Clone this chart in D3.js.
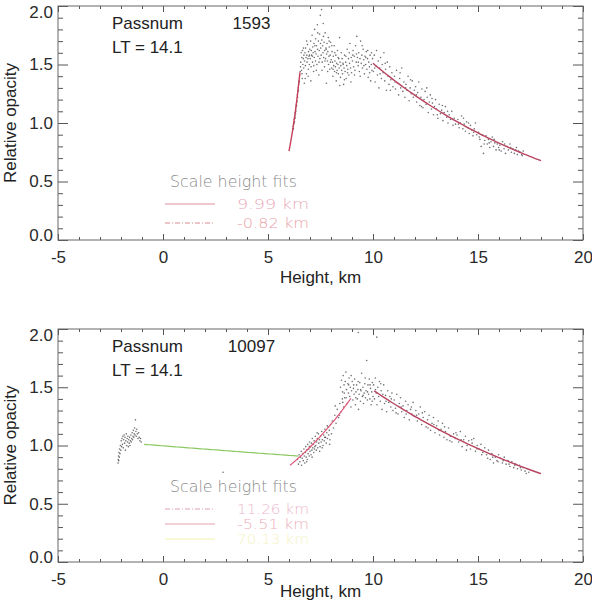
<!DOCTYPE html>
<html><head><meta charset="utf-8">
<script src="https://cdn.jsdelivr.net/npm/d3@7"></script>
<style>body{margin:0;background:#fff}svg{display:block}</style>
</head><body><svg id="c" width="592" height="602"></svg>
<script>
// ---------- data ----------
const xTicks = [-5, 0, 5, 10, 15, 20];
const xTickLabels = ["-5", "0", "5", "10", "15", "20"];
const xMinorTicks = [-4,-3,-2,-1,1,2,3,4,6,7,8,9,11,12,13,14,16,17,18,19];
const yTicks = [0, 0.5, 1.0, 1.5, 2.0];
const yTickLabels = ["0.0", "0.5", "1.0", "1.5", "2.0"];
const yMinorTicks = [0.1,0.2,0.3,0.4,0.6,0.7,0.8,0.9,1.1,1.2,1.3,1.4,1.6,1.7,1.8,1.9];

const passnums = ["1593", "10097"];
const localTimes = ["LT = 14.1", "LT = 14.1"];

// pass 1593: [height km, relative opacity]
const pass1593 = [
[6.18,0.95],[6.20,0.97],[6.21,0.95],[6.22,0.99],[6.24,1.00],[6.25,1.03],[6.26,1.01],[6.27,1.05],[6.28,1.06],[6.29,1.04],[6.30,1.09],[6.31,1.08],[6.32,1.12],[6.33,1.10],[6.34,1.14],[6.35,1.16],[6.36,1.15],[6.37,1.19],[6.38,1.18],[6.40,1.24],[6.41,1.22],[6.42,1.27],[6.44,1.30],[6.45,1.28],[6.46,1.33],[6.48,1.36],[6.49,1.35],[6.51,1.41],[6.53,1.44],[6.55,1.48],
[6.56,1.52],[6.58,1.60],[6.60,1.45],[6.61,1.56],[6.63,1.38],[6.64,1.62],[6.66,1.50],[6.68,1.55],[6.70,1.47],[6.71,1.58],[6.73,1.34],[6.74,1.53],
[6.76,1.60],[6.78,1.49],[6.79,1.64],[6.81,1.56],[6.83,1.42],[6.85,1.58],[6.86,1.52],[6.88,1.67],[6.90,1.55],[6.92,1.46],[6.93,1.61],[6.95,1.57],[6.97,1.50],[6.99,1.63],
[7.01,1.55],[7.03,1.70],[7.05,1.48],[7.06,1.62],[7.08,1.58],[7.10,1.75],[7.12,1.52],[7.13,1.65],[7.15,1.60],[7.17,1.44],[7.19,1.68],[7.20,1.56],[7.22,1.80],[7.24,1.61],[7.26,1.53],[7.27,1.72],[7.29,1.59],[7.31,1.66],[7.33,1.50],[7.35,1.84],[7.36,1.63],[7.38,1.57],[7.40,1.70],[7.42,1.41],[7.44,1.62],[7.46,1.76],[7.47,1.55],[7.49,1.92],
[7.51,1.64],[7.53,1.58],[7.55,1.97],[7.56,1.71],[7.58,1.52],[7.60,1.66],[7.62,1.60],[7.63,1.85],[7.65,1.56],[7.67,1.69],[7.69,1.48],[7.70,1.62],[7.72,1.77],[7.74,1.55],[7.76,1.64],[7.78,1.34],[7.79,1.59],[7.81,1.68],[7.83,1.53],[7.85,1.61],[7.87,1.73],[7.88,1.50],[7.90,1.57],[7.92,1.65],[7.94,1.46],[7.96,1.58],[7.98,1.69],
[8.01,1.54],[8.03,1.47],[8.05,1.61],[8.07,1.52],[8.09,1.40],[8.11,1.57],[8.13,1.49],[8.15,1.66],[8.17,1.44],[8.19,1.53],[8.21,1.48],[8.23,1.58],[8.25,1.36],[8.27,1.51],[8.29,1.45],[8.31,1.62],[8.33,1.50],[8.35,1.42],[8.37,1.55],[8.39,1.47],[8.41,1.73],[8.43,1.52],[8.45,1.39],[8.47,1.49],
[8.51,1.45],[8.53,1.55],[8.55,1.42],[8.58,1.50],[8.60,1.33],[8.62,1.47],[8.65,1.58],[8.67,1.44],[8.70,1.52],[8.72,1.38],[8.75,1.49],[8.77,1.63],[8.80,1.46],[8.83,1.55],[8.85,1.41],[8.88,1.51],[8.90,1.68],[8.93,1.47],[8.96,1.56],[8.98,1.43],
[9.02,1.53],[9.05,1.62],[9.08,1.48],[9.11,1.57],[9.14,1.45],[9.17,1.66],[9.20,1.52],[9.23,1.74],[9.26,1.56],[9.29,1.49],[9.32,1.60],[9.35,1.44],[9.38,1.55],[9.41,1.70],[9.44,1.51],[9.47,1.58],[9.50,1.47],[9.53,1.63],[9.56,1.54],[9.59,1.42],[9.62,1.57],[9.65,1.50],[9.68,1.61],[9.71,1.46],[9.74,1.55],[9.77,1.39],[9.80,1.52],[9.83,1.48],[9.86,1.58],[9.89,1.36],[9.92,1.50],[9.95,1.45],[9.98,1.55],
[10.02,1.44],[10.06,1.58],[10.10,1.35],[10.13,1.49],[10.17,1.62],[10.21,1.41],[10.25,1.53],[10.28,1.30],[10.32,1.47],[10.36,1.56],[10.40,1.38],[10.44,1.50],[10.48,1.43],[10.52,1.60],[10.56,1.36],[10.60,1.46],[10.64,1.28],[10.68,1.52],[10.72,1.40],[10.76,1.33],[10.80,1.48],[10.85,1.37],[10.90,1.43],[10.95,1.31],
[11.02,1.40],[11.07,1.29],[11.12,1.45],[11.17,1.34],[11.22,1.24],[11.27,1.38],[11.32,1.30],[11.37,1.47],[11.42,1.27],[11.47,1.35],[11.52,1.22],[11.57,1.33],[11.62,1.28],[11.67,1.40],[11.72,1.19],[11.77,1.30],[11.82,1.25],[11.87,1.36],[11.92,1.22],[11.97,1.28],
[12.03,1.31],[12.08,1.18],[12.13,1.26],[12.18,1.35],[12.23,1.15],[12.28,1.22],[12.33,1.29],[12.38,1.13],[12.43,1.20],[12.48,1.27],[12.53,1.16],[12.58,1.22],[12.63,1.09],[12.68,1.18],[12.73,1.24],[12.78,1.12],[12.83,1.17],[12.88,1.07],[12.93,1.14],[12.98,1.20],
[13.03,1.12],[13.09,1.04],[13.15,1.16],[13.21,1.08],[13.27,1.11],[13.33,1.02],[13.39,1.09],[13.45,1.14],[13.51,1.05],[13.57,1.00],[13.63,1.07],[13.69,1.03],[13.75,1.10],[13.81,0.98],[13.87,1.04],[13.93,0.99],
[14.04,1.03],[14.10,0.96],[14.16,1.00],[14.22,1.06],[14.28,0.95],[14.34,0.99],[14.40,0.93],[14.46,1.01],[14.52,0.96],[14.58,0.91],[14.64,0.98],[14.70,0.94],[14.76,0.89],[14.82,0.95],[14.88,1.00],[14.94,0.90],
[15.03,0.92],[15.09,0.86],[15.15,0.80],[15.21,0.90],[15.26,0.74],[15.32,0.85],[15.38,0.89],[15.44,0.82],[15.50,0.86],[15.56,0.79],[15.62,0.84],[15.68,0.88],[15.74,0.80],[15.80,0.83],[15.86,0.77],[15.92,0.82],[15.98,0.79],
[16.04,0.81],[16.10,0.76],[16.17,0.84],[16.24,0.78],[16.31,0.74],[16.38,0.80],[16.45,0.77],[16.52,0.82],[16.59,0.75],[16.66,0.78],[16.73,0.74],[16.80,0.77],[16.87,0.73],[16.94,0.76],[17.01,0.75],[17.08,0.73],[17.15,0.76]
];
const pass1593Extra = [
[6.62,1.42],[6.69,1.64],[6.77,1.38],[6.84,1.70],[6.91,1.40],[6.98,1.58],[7.04,1.36],[7.11,1.57],[7.18,1.49],[7.23,1.66],[7.30,1.45],[7.37,1.77],[7.43,1.52],[7.50,1.68],[7.57,1.45],[7.64,1.74],[7.71,1.53],[7.77,1.63],[7.84,1.44],[7.91,1.70],[7.97,1.52],[8.04,1.66],[8.10,1.46],[8.18,1.60],[8.26,1.43],[8.34,1.56],[8.42,1.32],[8.49,1.60],[8.57,1.51],[8.64,1.37],[8.71,1.57],[8.79,1.43],[8.87,1.60],[8.95,1.35],[9.04,1.58],[9.12,1.41],[9.21,1.59],[9.30,1.52],[9.39,1.40],[9.48,1.66],[9.57,1.49],[9.66,1.56],[9.75,1.62],[9.84,1.43],[9.93,1.60],
[10.08,1.47],[10.34,1.42],[10.58,1.51],[10.83,1.28],[11.05,1.35],[11.29,1.43],[11.55,1.30],[11.79,1.37],[12.06,1.24],[12.31,1.14],[12.56,1.30],[12.81,1.21],[13.06,1.07],[13.30,1.15],[13.55,1.10],[13.79,1.03],[14.07,0.99],[14.31,1.04],[14.55,1.00],[14.79,0.92],[15.06,0.88],[15.29,0.82],[15.53,0.83],[15.77,0.86],[16.01,0.77],[16.27,0.82],[16.55,0.79],[16.83,0.79],[17.11,0.72]
];

// pass 10097
const pass10097 = [
[-2.14,0.85],[-2.13,0.88],[-2.12,0.91],[-2.11,0.87],[-2.10,0.94],[-2.08,0.90],[-2.07,0.97],[-2.05,0.93],[-2.03,1.00],[-2.01,0.96],[-1.99,1.04],[-1.97,0.99],[-1.95,1.06],[-1.93,1.01],[-1.91,1.08],[-1.89,0.98],[-1.87,1.05],[-1.85,1.09],[-1.83,1.02],[-1.81,1.07],[-1.79,0.96],[-1.77,1.04],[-1.75,1.10],[-1.73,1.00],[-1.71,1.06],[-1.69,1.03],[-1.67,1.08],[-1.65,0.99],[-1.63,1.05],[-1.61,1.02],[-1.59,1.07],[-1.57,1.00],[-1.55,1.04],[-1.53,1.09],[-1.51,1.03],[-1.49,1.06],[-1.47,1.11],[-1.45,1.05],[-1.43,1.08],[-1.41,1.13],[-1.39,1.07],[-1.37,1.10],[-1.35,1.15],[-1.33,1.09],[-1.31,1.22],[-1.29,1.12],[-1.27,1.08],[-1.25,1.14],[-1.22,1.10],[-1.19,1.06],[-1.16,1.11],[-1.13,1.07],[-1.10,1.04],[-1.07,1.06],[-1.04,1.03],
[2.86,0.77],
[6.40,0.88],[6.45,0.84],[6.48,0.92],[6.52,0.86],[6.55,0.90],[6.58,0.95],[6.60,0.83],[6.63,0.89],[6.66,0.93],[6.68,0.87],[6.71,0.97],[6.73,0.91],[6.75,0.85],[6.78,0.94],[6.80,0.99],[6.82,0.90],[6.85,0.96],[6.87,0.88],[6.89,1.01],[6.91,0.93],[6.94,0.97],[6.96,0.91],[6.98,1.03],[7.00,0.95],[7.02,0.99],[7.05,0.92],[7.07,1.02],[7.09,0.96],[7.11,1.06],[7.13,0.98],[7.16,1.01],[7.18,0.94],[7.20,1.04],[7.23,0.99],[7.25,1.08],[7.27,1.00],[7.30,0.96],[7.32,1.03],[7.35,1.06],[7.37,0.98],[7.40,1.10],[7.42,1.02],[7.45,1.05],[7.48,0.99],[7.50,1.08],[7.53,1.03],[7.56,1.12],[7.59,1.05],[7.62,1.00],[7.65,1.09],[7.68,1.04],[7.71,1.14],[7.74,1.07],[7.77,1.02],[7.80,1.11],[7.83,1.06],[7.86,1.16],[7.89,1.09],[7.92,1.13],[7.95,1.05],[7.98,1.18],[8.02,1.10],
[8.06,1.21],[8.12,1.15],[8.18,1.26],[8.24,1.19],[8.30,1.31],[8.36,1.24],[8.42,1.36],[8.48,1.29],[8.54,1.40],[8.60,1.33],
[8.45,1.50],[8.50,1.56],[8.55,1.46],[8.58,1.60],[8.62,1.52],[8.65,1.41],[8.68,1.55],[8.71,1.63],[8.74,1.48],[8.77,1.36],[8.80,1.53],[8.83,1.45],[8.86,1.58],[8.89,1.42],[8.92,1.50],[8.95,1.33],[8.98,1.47],[9.01,1.55],[9.04,1.39],[9.07,1.49],[9.10,1.44],[9.13,1.57],[9.16,1.35],[9.19,1.46],[9.22,1.52],[9.25,1.40],[9.28,1.48],[9.30,1.97],[9.31,1.31],[9.34,1.44],[9.37,1.54],[9.40,1.38],[9.43,1.47],[9.46,1.62],[9.49,1.42],[9.52,1.50],[9.55,1.36],[9.58,1.45],[9.61,1.53],[9.64,1.41],[9.67,1.47],[9.70,1.73],[9.73,1.39],[9.76,1.52],[9.79,1.44],[9.82,1.57],[9.85,1.40],[9.88,1.49],[9.91,1.35],[9.94,1.46],[9.97,1.54],[10.00,1.42],[10.18,1.93],
[10.03,1.52],[10.07,1.40],[10.11,1.58],[10.15,1.45],[10.19,1.35],[10.23,1.50],[10.27,1.42],[10.31,1.55],[10.35,1.38],[10.39,1.47],[10.43,1.31],[10.47,1.44],[10.51,1.52],[10.55,1.36],[10.60,1.43],[10.65,1.29],[10.70,1.47],[10.75,1.37],[10.80,1.42],[10.85,1.33],[10.90,1.45],[10.95,1.30],
[11.01,1.39],[11.07,1.32],[11.13,1.44],[11.19,1.27],[11.25,1.36],[11.31,1.41],[11.37,1.29],[11.43,1.34],[11.49,1.24],[11.55,1.38],[11.61,1.30],[11.67,1.35],[11.73,1.22],[11.79,1.31],[11.85,1.27],[11.91,1.37],[11.97,1.25],
[12.04,1.30],[12.11,1.21],[12.18,1.27],[12.25,1.33],[12.32,1.18],[12.39,1.24],[12.46,1.29],[12.53,1.16],[12.60,1.22],[12.67,1.26],[12.74,1.13],[12.81,1.19],[12.88,1.24],[12.95,1.11],
[13.03,1.17],[13.10,1.21],[13.17,1.09],[13.24,1.14],[13.31,1.19],[13.38,1.07],[13.45,1.12],[13.52,1.05],[13.60,1.15],[13.68,1.08],[13.76,1.03],[13.84,1.10],[13.92,1.06],
[14.00,1.09],[14.08,1.03],[14.16,1.12],[14.24,0.99],[14.32,1.05],[14.40,1.08],[14.48,1.00],[14.56,1.04],[14.64,0.97],[14.72,1.02],[14.80,1.06],[14.88,0.95],[14.96,1.00],
[15.05,0.97],[15.14,1.01],[15.23,0.94],[15.32,0.98],[15.41,0.92],[15.50,0.96],[15.58,0.88],[15.66,0.93],[15.74,0.85],[15.82,0.90],[15.90,0.87],[15.98,0.92],
[16.07,0.89],[16.16,0.85],[16.25,0.90],[16.34,0.84],[16.43,0.87],[16.52,0.82],[16.61,0.86],[16.70,0.81],[16.79,0.84],[16.88,0.80],[16.97,0.83],[17.06,0.79],[17.15,0.81],[17.24,0.78],[17.33,0.80],[17.42,0.77]
];
const pass10097Extra = [
[6.84,0.86],[6.97,0.99],[7.10,0.90],[7.21,0.97],[7.34,1.11],[7.46,0.95],[7.58,0.98],[7.70,1.07],[7.82,1.17],[7.94,1.01],[8.20,1.34],[8.40,1.26],[8.56,1.37],[8.63,1.45],[8.72,1.41],[8.84,1.52],[8.96,1.60],[9.08,1.52],[9.18,1.41],[9.29,1.55],[9.41,1.48],[9.53,1.43],[9.63,1.58],[9.74,1.46],[9.86,1.52],[9.96,1.38],
[10.12,1.48],[10.37,1.53],[10.62,1.38],[10.87,1.40],[11.10,1.28],[11.34,1.33],[11.58,1.27],[11.83,1.33],[12.08,1.26],[12.35,1.28],[12.62,1.15],[12.90,1.18],[13.14,1.13],[13.41,1.16],[13.66,1.04],[13.95,1.11],[14.20,1.05],[14.45,0.96],[14.70,1.05],[14.95,0.97],[15.18,0.92],[15.46,0.89],[15.70,0.90],[15.95,0.86],[16.20,0.87],[16.48,0.84],[16.75,0.83],[17.02,0.81],[17.30,0.76]
];

// scale-height fits: start height, end height, opacity at start, scale height used for the curve
const fitStart1593 = [10.0, 6.0];
const fitEnd1593 = [18.0, 6.52];
const fitV0_1593 = [1.51, 0.76];
const fitH1593 = [9.99, -0.82];
const fitLabels1593 = ["9.99 km", "-0.82 km"];

const fitStart10097 = [10.05, 6.05, -0.9];
const fitEnd10097 = [18.0, 8.95, 6.45];
const fitV0_10097 = [1.47, 0.83, 1.01];
const fitH10097 = [12.0, -5.51, 70.0];
const fitLabels10097 = ["11.26 km", "-5.51 km", "70.13 km"];

// ---------- drawing ----------
const svg = d3.select("#c");
const FONT = "'Liberation Sans', Arial, Helvetica, sans-serif";
const LFONT = "'DejaVu Sans', sans-serif";
const L = 58, R = 583;
const x = d3.scaleLinear().domain([-5, 20]).range([L, R]);

function drawPanel(top, bottom, pts, fits, legend, passnum, lt, xTitleY) {
  const g = svg.append("g");
  const y = d3.scaleLinear().domain([0, 2]).range([bottom, top]);
  const tickCol = "#555";

  function styleAxis(sel) {
    sel.select(".domain").remove();
    sel.selectAll(".tick line").attr("stroke", tickCol).attr("stroke-width", 1);
    sel.selectAll(".tick text").attr("fill", "#2a2a2a").style("font-family", FONT).style("font-size", "17px");
  }
  g.append("g").attr("transform", `translate(0,${bottom})`)
    .call(d3.axisBottom(x).tickValues(xTicks).tickSize(-6).tickPadding(11).tickFormat((d, i) => xTickLabels[i]))
    .call(styleAxis);
  g.append("g").attr("transform", `translate(0,${bottom})`)
    .call(d3.axisBottom(x).tickValues(xMinorTicks).tickSize(-3).tickFormat(""))
    .call(styleAxis);
  g.append("g").attr("transform", `translate(0,${top})`)
    .call(d3.axisTop(x).tickValues(xTicks).tickSize(-6).tickFormat(""))
    .call(styleAxis);
  g.append("g").attr("transform", `translate(0,${top})`)
    .call(d3.axisTop(x).tickValues(xMinorTicks).tickSize(-3).tickFormat(""))
    .call(styleAxis);
  const la = g.append("g").attr("transform", `translate(${L},0)`)
    .call(d3.axisLeft(y).tickValues(yTicks).tickSize(-10).tickPadding(5).tickFormat((d, i) => yTickLabels[i]))
    .call(styleAxis);
  la.selectAll(".tick text").attr("dy", d => d === 2 ? "0.65em" : d === 0 ? "0.0em" : "0.32em");
  g.append("g").attr("transform", `translate(${L},0)`)
    .call(d3.axisLeft(y).tickValues(yMinorTicks).tickSize(-5).tickFormat(""))
    .call(styleAxis);
  g.append("g").attr("transform", `translate(${R},0)`)
    .call(d3.axisRight(y).tickValues(yTicks).tickSize(-10).tickFormat(""))
    .call(styleAxis);
  g.append("g").attr("transform", `translate(${R},0)`)
    .call(d3.axisRight(y).tickValues(yMinorTicks).tickSize(-5).tickFormat(""))
    .call(styleAxis);
  g.append("rect").attr("x", L).attr("y", top).attr("width", R - L).attr("height", bottom - top)
    .attr("fill", "none").attr("stroke", "#666").attr("stroke-width", 1);

  g.append("text").attr("x", (L + R) / 2).attr("y", xTitleY).attr("text-anchor", "middle")
    .style("font-family", FONT).style("font-size", "17px").attr("fill", "#222").text("Height, km");
  g.append("text").attr("transform", `translate(16,${(top + bottom) / 2}) rotate(-90)`).attr("text-anchor", "middle")
    .style("font-family", FONT).style("font-size", "17px").attr("fill", "#222").text("Relative opacity");

  g.append("text").attr("x", 112).attr("y", top + 23).style("font-family", FONT).style("font-size", "17px").attr("fill", "#222").text("Passnum");
  g.append("text").attr("x", 251.5).attr("y", top + 23).attr("text-anchor", "middle").style("font-family", FONT).style("font-size", "17px").attr("fill", "#222").text(passnum);
  g.append("text").attr("x", 112).attr("y", top + 47).style("font-family", FONT).style("font-size", "17px").attr("fill", "#222").text(lt);

  g.append("g").selectAll("circle").data(pts).join("circle")
    .attr("cx", d => x(d[0])).attr("cy", d => y(d[1])).attr("r", 0.8)
    .attr("fill", "#333").attr("fill-opacity", 0.7);

  const line = d3.line().x(d => x(d[0])).y(d => y(d[1]));
  fits.forEach(f => {
    const n = 60, arr = [];
    for (let k = 0; k <= n; k++) {
      const hh = f.h0 + (f.h1 - f.h0) * k / n;
      arr.push([hh, f.v0 * Math.exp(-(hh - f.h0) / f.H)]);
    }
    g.append("path").attr("d", line(arr)).attr("fill", "none")
      .attr("stroke", f.color).attr("stroke-width", f.w).attr("stroke-dasharray", f.dash || null);
  });

  g.append("text").attr("x", 170).attr("y", legend.y).style("font-family", LFONT).style("font-weight", 200)
    .style("font-size", "15px").attr("fill", "#8a8a8a").attr("textLength", 127).attr("lengthAdjust", "spacingAndGlyphs")
    .text("Scale height fits");
  legend.items.forEach((it, i) => {
    const yy = legend.y + 17 + i * legend.step;
    g.append("line").attr("x1", 165).attr("x2", 215).attr("y1", yy).attr("y2", yy)
      .attr("stroke", it.lcolor).attr("stroke-width", 1).attr("stroke-dasharray", it.dash || null);
    g.append("text").attr("x", 237).attr("y", yy + 5).style("font-family", LFONT).style("font-weight", 200)
      .style("font-size", "14px").attr("fill", it.tcolor).attr("textLength", 72).attr("lengthAdjust", "spacingAndGlyphs")
      .text(it.label);
  });
}

drawPanel(6, 240, pass1593.concat(pass1593Extra),
  fitStart1593.map((h0, i) => ({h0, h1: fitEnd1593[i], v0: fitV0_1593[i], H: fitH1593[i],
    color: i === 0 ? "#b8435f" : "#c8405a", w: 1.4, dash: null})),
  {y: 187, step: 19, items: [
    {label: fitLabels1593[0], lcolor: "#e0909c", tcolor: "#e9a8b8", dash: null},
    {label: fitLabels1593[1], lcolor: "#d98a92", tcolor: "#eaa0a8", dash: "5,2,1,2"}]},
  passnums[0], localTimes[0], 283);

drawPanel(329, 562, pass10097.concat(pass10097Extra),
  fitStart10097.map((h0, i) => ({h0, h1: fitEnd10097[i], v0: fitV0_10097[i], H: fitH10097[i],
    color: ["#b8435f", "#e0587a", "#8cc860"][i], w: [1.4, 1.2, 1.2][i], dash: null})),
  {y: 492, step: 15, items: [
    {label: fitLabels10097[0], lcolor: "#dda0b8", tcolor: "#ecb8cc", dash: "5,2,1,2"},
    {label: fitLabels10097[1], lcolor: "#e8a0b0", tcolor: "#eeb0bc", dash: null},
    {label: fitLabels10097[2], lcolor: "#f2f2b0", tcolor: "#f3f3c4", dash: null}]},
  passnums[1], localTimes[1], 597);
</script></body></html>
